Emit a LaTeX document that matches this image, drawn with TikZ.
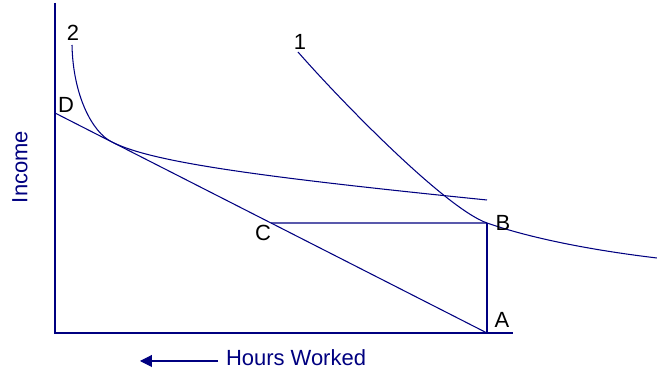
\documentclass[tikz,border=0pt]{standalone}
\usepackage{fontspec}
\setmainfont{Liberation Sans}
\usetikzlibrary{calc, arrows.meta}
\definecolor{navyblu}{RGB}{0,0,128}

\begin{document}
\begin{tikzpicture}[x=0.02cm,y=-0.02cm,
    asse/.style={navyblu,line width=0.8pt},
    curva/.style={navyblu,line width=0.6pt},
    lettera/.style={font=\fontsize{12.5}{15}\selectfont,inner sep=0pt},
    testo/.style={navyblu,font=\fontsize{12.5}{15}\selectfont,inner sep=0pt}]
    \useasboundingbox (0,0) rectangle (657,374);

    % punti
    \coordinate (O) at (55,333);
    \coordinate (Y) at (55,3);
    \coordinate (X) at (513,333);
    \coordinate (A) at (487,333);
    \coordinate (B) at (487,223);
    \coordinate (D) at (55,113);
    \coordinate (C) at ($(D)!0.5!(A)$);
    \coordinate (T) at ($(D)!0.131!(A)$);
    \coordinate (I2) at (72,45);
    \coordinate (F2) at (487,200);
    \coordinate (I1) at (298,52);
    \coordinate (F1) at (657,258);

    % assi
    \draw[asse] (Y) -- (O) -- (X);

    % vincolo di bilancio e rettangolo
    \draw[curva] (D) -- (A);
    \draw[curva] (A) -- (B);
    \draw[curva] (C) -- (B);

    % curva di indifferenza 2
    \draw[curva] (I2) .. controls (73,95) and (92,132) .. (T)
        .. controls (150,161.5) and (250,176) .. (F2);

    % curva di indifferenza 1
    \draw[curva] (I1) .. controls (340,100) and (445,208) .. (B)
        .. controls (530,238) and (590,250) .. (F1);

    % etichette
    \node[lettera] (l2) at (73,33) {2};
    \node[lettera] (l1) at (300,42) {1};
    \node[lettera] (lD) at (66,105) {D};
    \node[lettera] (lC) at (263,233) {C};
    \node[lettera] (lB) at (503,223) {B};
    \node[lettera] (lA) at (502,320) {A};

    % assi: nomi
    \node[testo,rotate=90] (reddito) at (20,167) {Income};
    \node[testo] (ore) at (296,358) {Hours Worked};
    \coordinate (coda) at (218,361);
    \coordinate (punta) at (140,361);
    \draw[asse,line width=0.6pt,-{Triangle[length=0.24cm,width=0.24cm]}] (coda) -- (punta);
\end{tikzpicture}
\end{document}
